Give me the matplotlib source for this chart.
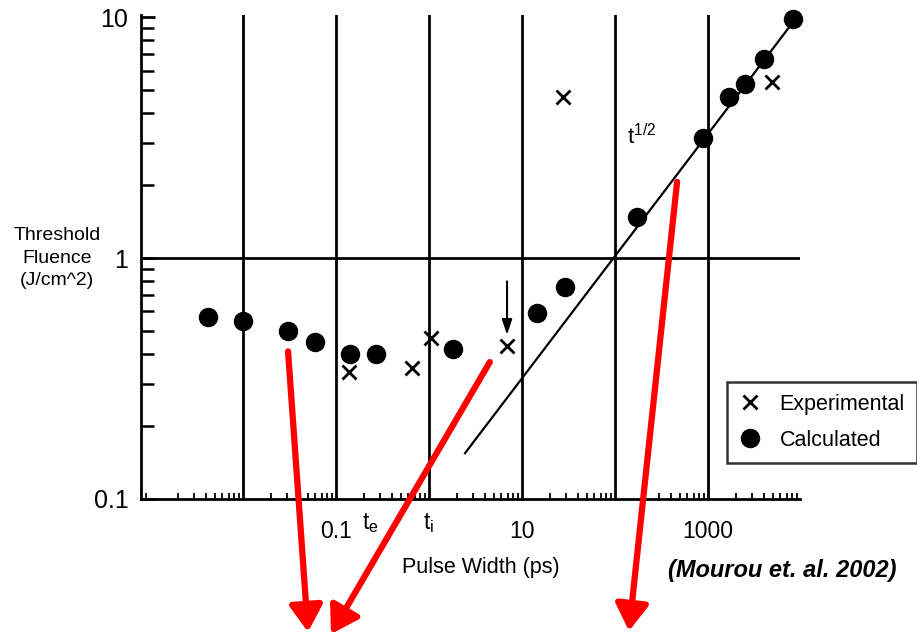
import numpy as np
import matplotlib
matplotlib.use("Agg")
import matplotlib.pyplot as plt
from matplotlib.ticker import LogLocator, FixedLocator, NullFormatter, FixedFormatter
from matplotlib.transforms import blended_transform_factory

plt.rcParams['font.family'] = ['Liberation Sans', 'DejaVu Sans']
plt.rcParams['mathtext.fontset'] = 'custom'
plt.rcParams['mathtext.rm'] = 'Liberation Sans'
plt.rcParams['mathtext.it'] = 'Liberation Sans'

# ---- data ----
calc_x = [0.0042, 0.01, 0.0305, 0.059, 0.14, 0.27, 1.81, 14.5, 29, 173, 880, 1680, 2500, 4000, 8200]
calc_y = [0.57, 0.55, 0.50, 0.45, 0.40, 0.40, 0.42, 0.59, 0.76, 1.48, 3.15, 4.66, 5.3, 6.7, 9.8]
exp_x = [0.138, 0.66, 1.05, 6.9, 27.6, 4900]
exp_y = [0.336, 0.35, 0.466, 0.43, 4.66, 5.4]
fit_x = [2.44, 9750]
fit_y = [0.155, 10.4]
decade_lines = [0.01, 0.1, 1, 10, 100, 1000]
xtick_vals = [0.1, 10, 1000]
xtick_labels = ['0.1', '10', '1000']
ytick_vals = [0.1, 1, 10]
ytick_labels = ['0.1', '1', '10']

fig = plt.figure(figsize=(9.17, 6.35), dpi=100)
W, H = 917, 635
ax = fig.add_axes([141 / W, 1 - 499 / H, (800 - 141) / W, (499 - 15) / H])
ax.set_xscale('log')
ax.set_yscale('log')
ax.set_xlim(8e-4, 9750)
ax.set_ylim(0.1, 10.2)

for s in ['top', 'right']:
    ax.spines[s].set_visible(False)
for s in ['left', 'bottom']:
    ax.spines[s].set_linewidth(2)

for v in decade_lines:
    ax.axvline(v, color='black', lw=2, zorder=1)
ax.axhline(1, color='black', lw=2, zorder=1)

ax.plot(fit_x, fit_y, color='black', lw=1.6, zorder=2)

ax.plot(calc_x, calc_y, 'o', color='black', markersize=13, ls='none',
        label='Calculated', zorder=3, clip_on=False)
ax.plot(exp_x, exp_y, 'x', color='black', markersize=10, mew=2, ls='none',
        label='Experimental', zorder=3, clip_on=False)

# ticks
ax.xaxis.set_major_locator(FixedLocator(xtick_vals))
ax.xaxis.set_major_formatter(FixedFormatter(xtick_labels))
ax.xaxis.set_minor_locator(LogLocator(base=10, subs=np.arange(2, 10), numticks=20))
ax.xaxis.set_minor_formatter(NullFormatter())
ax.yaxis.set_major_locator(FixedLocator(ytick_vals))
ax.yaxis.set_major_formatter(FixedFormatter(ytick_labels))
ax.yaxis.set_minor_locator(LogLocator(base=10, subs=np.arange(2, 10), numticks=20))
ax.yaxis.set_minor_formatter(NullFormatter())

ax.tick_params(axis='x', which='major', direction='in', length=0, pad=15, labelsize=16.5)
ax.tick_params(axis='x', which='minor', direction='in', length=4, width=1.3)
ax.tick_params(axis='y', which='major', direction='in', length=10, width=2, pad=9, labelsize=18)
ax.tick_params(axis='y', which='minor', direction='in', length=9, width=1.8)

# axis labels
fig.text(57 / W, 1 - 258 / H, 'Threshold\nFluence\n(J/cm^2)', ha='center', va='center',
         fontsize=14, linespacing=1.4)
fig.text(481 / W, 1 - 568 / H, 'Pulse Width (ps)', ha='center', va='center', fontsize=15.5)
fig.text(782 / W, 1 - 571 / H, '(Mourou et. al. 2002)', ha='center', va='center',
         fontsize=17, fontweight='bold', fontstyle='italic')

# annotations
ax.text(135, 3.2, r'$\mathregular{t^{1/2}}$', fontsize=16, ha='left', va='center')
tr = blended_transform_factory(ax.transData, ax.transAxes)
ax.text(0.19, -0.025, r'$\mathregular{t_e}$', transform=tr, fontsize=16.5, ha='left', va='top',
        clip_on=False)
ax.text(1.0, -0.025, r'$\mathregular{t_i}$', transform=tr, fontsize=16.5, ha='center', va='top',
        clip_on=False)
ax.annotate('', xy=(6.9, 0.48), xytext=(6.9, 0.80),
            arrowprops=dict(arrowstyle='-|>,head_length=0.9,head_width=0.3', color='black',
                            lw=1.5, shrinkA=0, shrinkB=0))

# red arrows
red_starts = [(0.0305, 0.41), (4.5, 0.37), (465, 2.07)]
red_ends = [(308, 632), (331, 634), (629, 631)]
for (sx, sy), (ex, ey) in zip(red_starts, red_ends):
    ax.annotate('', xy=(ex / W, 1 - ey / H), xycoords='figure fraction',
                xytext=(sx, sy), textcoords='data', annotation_clip=False,
                arrowprops=dict(arrowstyle='-|>,head_length=1.6,head_width=1.0',
                                mutation_scale=10, color='#ff0000', lw=4.5,
                                shrinkA=0, shrinkB=0), zorder=5)

# legend
h, l = ax.get_legend_handles_labels()
leg = fig.legend([h[1], h[0]], [l[1], l[0]], loc='upper left',
                 bbox_to_anchor=(727 / W, 1 - 382 / H), fontsize=15.5, frameon=True,
                 fancybox=False, edgecolor='black', handlelength=1.0, handletextpad=0.9,
                 labelspacing=0.7, borderpad=0.55, borderaxespad=0)
leg.get_frame().set_linewidth(1.8)

fig.savefig('out.png', dpi=100)
